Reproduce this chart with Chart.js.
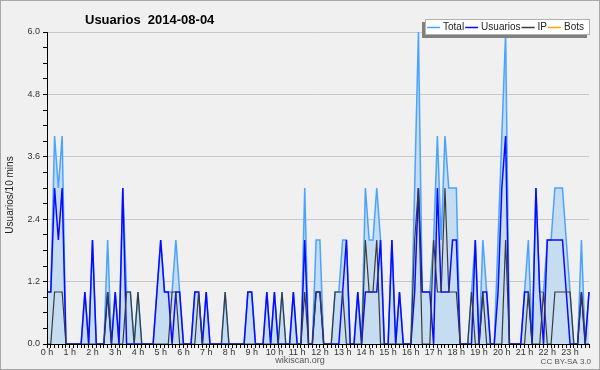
<!DOCTYPE html>
<html>
<head>
<meta charset="utf-8">
<script src="https://cdn.jsdelivr.net/npm/chart.js@4.4.1/dist/chart.umd.min.js"></script>
<style>
  html, body { margin: 0; padding: 0; background: #f0f0f0; }
  canvas { display: block; }
</style>
</head>
<body>
<canvas id="chart" width="600" height="370"></canvas>
<script>
const chartTitle = 'Usuarios  2014-08-04';
const yTitle = 'Usuarios/10 mins';
const footer = 'wikiscan.org';
const licence = 'CC BY-SA 3.0';

// one label per hour, 6 slots of 10 minutes each
const hours = ['0 h', '1 h', '2 h', '3 h', '4 h', '5 h', '6 h', '7 h', '8 h', '9 h', '10 h', '11 h',
  '12 h', '13 h', '14 h', '15 h', '16 h', '17 h', '18 h', '19 h', '20 h', '21 h', '22 h', '23 h'];

const total = [
  1, 1, 4, 3, 4, 0, 0, 0, 0, 0, 1, 0,
  2, 0, 0, 0, 2, 0, 1, 0, 3, 1, 1, 0,
  1, 0, 0, 0, 0, 1, 2, 1, 1, 1, 2, 1,
  0, 0, 0, 1, 1, 0, 1, 0, 0, 0, 0, 1,
  0, 0, 0, 0, 0, 1, 1, 0, 0, 0, 1, 0,
  1, 0, 1, 0, 0, 1, 0, 0, 3, 0, 0, 2,
  2, 0, 0, 0, 1, 1, 2, 2, 0, 0, 1, 0,
  3, 2, 2, 3, 2, 0, 0, 2, 0, 1, 0, 0,
  0, 3, 6, 1, 1, 1, 2, 4, 2, 4, 3, 3,
  3, 0, 0, 0, 1, 2, 0, 2, 1, 0, 0, 2,
  4, 6, 0, 0, 0, 0, 1, 2, 0, 3, 1, 1,
  2, 2, 3, 3, 3, 2, 1, 0, 0, 2, 0, 1
];

const usuarios = [
  1, 1, 3, 2, 3, 0, 0, 0, 0, 0, 1, 0,
  2, 0, 0, 0, 1, 0, 1, 0, 3, 0, 0, 0,
  0, 0, 0, 0, 0, 1, 2, 1, 1, 0, 1, 1,
  0, 0, 0, 1, 1, 0, 1, 0, 0, 0, 0, 0,
  0, 0, 0, 0, 0, 1, 1, 0, 0, 0, 1, 0,
  1, 0, 0, 0, 0, 1, 0, 0, 2, 0, 0, 1,
  1, 0, 0, 0, 0, 0, 1, 2, 0, 0, 1, 0,
  1, 1, 1, 1, 2, 0, 0, 2, 0, 1, 0, 0,
  0, 1, 3, 1, 1, 1, 0, 3, 1, 1, 1, 2,
  2, 0, 0, 0, 0, 2, 0, 1, 1, 0, 0, 1,
  3, 4, 0, 0, 0, 0, 1, 1, 0, 3, 1, 0,
  2, 2, 2, 2, 2, 1, 0, 0, 0, 1, 0, 1
];

const ip = [
  0, 0, 1, 1, 1, 0, 0, 0, 0, 0, 0, 0,
  0, 0, 0, 0, 1, 0, 0, 0, 0, 1, 1, 0,
  1, 0, 0, 0, 0, 0, 0, 0, 0, 1, 1, 0,
  0, 0, 0, 0, 1, 0, 0, 0, 0, 0, 0, 1,
  0, 0, 0, 0, 0, 0, 0, 0, 0, 0, 0, 0,
  0, 0, 1, 0, 0, 0, 0, 0, 1, 0, 0, 1,
  1, 0, 0, 0, 1, 1, 1, 0, 0, 0, 0, 0,
  2, 1, 1, 2, 0, 0, 0, 0, 0, 0, 0, 0,
  0, 2, 3, 0, 0, 0, 2, 1, 1, 3, 1, 1,
  1, 0, 0, 0, 1, 0, 0, 1, 0, 0, 0, 0,
  0, 2, 0, 0, 0, 0, 0, 1, 0, 0, 0, 1,
  0, 0, 1, 1, 1, 1, 1, 0, 0, 1, 0, 0
];

const bots = [
  0, 0, 0, 0, 0, 0, 0, 0, 0, 0, 0, 0,
  0, 0, 0, 0, 0, 0, 0, 0, 0, 0, 0, 0,
  0, 0, 0, 0, 0, 0, 0, 0, 0, 0, 0, 0,
  0, 0, 0, 0, 0, 0, 0, 0, 0, 0, 0, 0,
  0, 0, 0, 0, 0, 0, 0, 0, 0, 0, 0, 0,
  0, 0, 0, 0, 0, 0, 0, 0, 0, 0, 0, 0,
  0, 0, 0, 0, 0, 0, 0, 0, 0, 0, 0, 0,
  0, 0, 0, 0, 0, 0, 0, 0, 0, 0, 0, 0,
  0, 0, 0, 0, 0, 0, 0, 0, 0, 0, 0, 0,
  0, 0, 0, 0, 0, 0, 0, 0, 0, 0, 0, 0,
  0, 0, 0, 0, 0, 0, 0, 0, 0, 0, 0, 0,
  0, 0, 0, 0, 0, 0, 0, 0, 0, 0, 0, 0
];

// 10-minute slots, only the first one of every hour carries a label
let slots = [];
hours.forEach(h => {
  for (let k = 0; k < 6; k++) slots.push(k === 0 ? h : '');
});

const font = '"Liberation Sans", Arial, sans-serif';

// background, frame, title, legend box and footer texts
const decor = {
  id: 'decor',
  beforeDraw(chart) {
    let ctx = chart.ctx;
    ctx.save();
    ctx.fillStyle = '#f0f0f0';
    ctx.fillRect(0, 0, chart.width, chart.height);
    ctx.strokeStyle = '#a8a8a8';
    ctx.lineWidth = 1;
    ctx.strokeRect(0.5, 0.5, chart.width - 1, chart.height - 1);
    ctx.restore();
  },
  afterDraw(chart) {
    let ctx = chart.ctx;
    ctx.save();

    ctx.fillStyle = '#000';
    ctx.font = 'bold 13px ' + font;
    ctx.textBaseline = 'alphabetic';
    ctx.textAlign = 'left';
    ctx.fillText(chartTitle, 85, 24);

    // legend with its shadow
    ctx.fillStyle = '#808080';
    ctx.fillRect(422, 22, 165, 16);
    ctx.fillStyle = '#ffffff';
    ctx.fillRect(425, 19, 165, 16);
    ctx.strokeStyle = '#b0b0b0';
    ctx.strokeRect(425.5, 19.5, 164, 15);

    ctx.font = '10px ' + font;
    ctx.textBaseline = 'middle';
    let x = 427;
    chart.data.datasets.forEach(ds => {
      ctx.strokeStyle = ds.borderColor;
      ctx.lineWidth = 1.5;
      ctx.beginPath();
      ctx.moveTo(x, 27.5);
      ctx.lineTo(x + 13, 27.5);
      ctx.stroke();
      x += 16;
      ctx.fillStyle = '#222';
      ctx.fillText(ds.label, x, 27.5);
      x += ctx.measureText(ds.label).width + 1;
    });

    ctx.fillStyle = '#222';
    ctx.translate(10, 195);
    ctx.rotate(-Math.PI / 2);
    ctx.textAlign = 'center';
    ctx.fillText(yTitle, 0, 0);
    ctx.setTransform(1, 0, 0, 1, 0, 0);

    ctx.fillStyle = '#555';
    ctx.font = '9px ' + font;
    ctx.textAlign = 'center';
    ctx.fillText(footer, 300, 361);
    ctx.font = '8px ' + font;
    ctx.textAlign = 'right';
    ctx.fillText(licence, 591, 362);

    ctx.restore();
  }
};

function isMajor(v) {
  return Math.round(v * 10) % 12 === 0;
}

new Chart(document.getElementById('chart'), {
  type: 'line',
  data: {
    labels: slots,
    datasets: [
      { label: 'Total', data: total, borderColor: '#4aa3ff', backgroundColor: '#c6dcf0', fill: 'origin', borderWidth: 1.5, order: 3 },
      { label: 'Usuarios', data: usuarios, borderColor: '#0a0aff', borderWidth: 1.5, fill: false, order: 2 },
      { label: 'IP', data: ip, borderColor: '#3a3a3a', borderWidth: 1.2, fill: false, order: 1 },
      { label: 'Bots', data: bots, borderColor: '#ffa500', borderWidth: 1, fill: false, order: 4 }
    ]
  },
  options: {
    responsive: false,
    animation: false,
    devicePixelRatio: 1,
    layout: { padding: { top: 32, right: 11, left: 0, bottom: 0 } },
    elements: {
      point: { radius: 0 },
      line: { tension: 0 }
    },
    datasets: { line: { clip: false } },
    plugins: {
      legend: { display: false },
      title: { display: false },
      tooltip: { enabled: false }
    },
    scales: {
      x: {
        type: 'category',
        offset: false,
        grid: { display: true, drawOnChartArea: false, drawTicks: true, tickLength: 4, tickColor: '#000', color: '#000' },
        border: { display: true, color: '#000', width: 1, z: 1 },
        ticks: {
          autoSkip: false, maxRotation: 0, minRotation: 0, padding: -1,
          color: '#333', font: { size: 9, family: font },
          callback: (v, i) => slots[i]
        },
        afterFit: s => { s.height = 26; }
      },
      y: {
        min: 0,
        max: 6,
        grid: {
          color: c => isMajor(c.tick.value) && c.tick.value > 0 ? '#c8c8c8' : 'rgba(0,0,0,0)',
          tickColor: '#000', tickLength: 4, drawTicks: true
        },
        border: { display: true, color: '#000', width: 1, z: 1 },
        ticks: {
          stepSize: 0.3, maxTicksLimit: 30, padding: 3,
          color: '#333', font: { size: 9, family: font },
          callback: v => isMajor(v) ? v.toFixed(1) : ''
        },
        afterFit: s => { s.width = 47; }
      }
    }
  },
  plugins: [decor]
});
</script>
</body>
</html>
